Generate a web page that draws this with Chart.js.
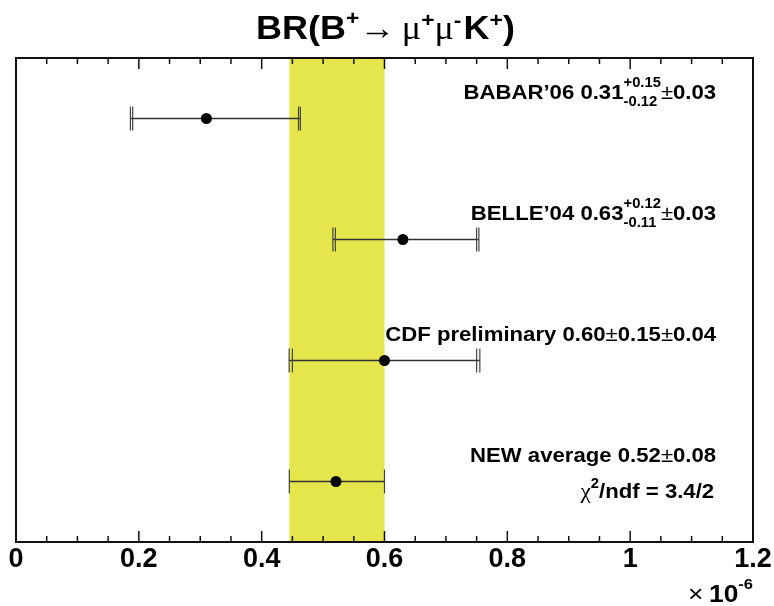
<!DOCTYPE html>
<html>
<head>
<meta charset="utf-8">
<script src="https://cdn.jsdelivr.net/npm/chart.js@4.4.1/dist/chart.umd.min.js"></script>
<style>
  html, body { margin: 0; padding: 0; background: #fff; }
  #wrap { width: 774px; height: 606px; }
</style>
</head>
<body>
<div id="wrap"><canvas id="c" width="774" height="606"></canvas></div>
<script>
// ---- data ----
const names        = ["BABAR\u201906", "BELLE\u201904", "CDF preliminary", "NEW average"];
const values       = [0.31, 0.63, 0.60, 0.521];
const statPlus     = [0.15, 0.12, 0.15, 0.079];
const statMinus    = [0.12, 0.11, 0.15, 0.076];
const syst         = [0.03, 0.03, 0.04, 0];
const rows         = [3.5, 2.5, 1.5, 0.5];
const resultText   = ["0.31", "0.63", "0.60", "0.52"];
const statUpText   = ["+0.15", "+0.12", null, null];
const statDownText = ["-0.12", "-0.11", null, null];
const statSymText  = [null, null, "0.15", "0.08"];
const systText     = ["0.03", "0.03", "0.04", null];
const band         = [0.445, 0.600];
const chi2Text     = "/ndf = 3.4/2";
const xTickLabels  = ["0", "0.2", "0.4", "0.6", "0.8", "1", "1.2"];

const SANS = '"Liberation Sans", Arial, sans-serif';
const SERIF = '"Liberation Serif", "Times New Roman", serif';

function measurePieces(ctx, pieces) {
  let w = 0;
  for (const p of pieces) {
    ctx.font = p.f;
    if (p.sup !== undefined) {
      p.w = Math.max(ctx.measureText(p.sup).width, ctx.measureText(p.sub).width);
    } else {
      p.w = ctx.measureText(p.t).width;
    }
    w += p.w + (p.pad || 0);
  }
  return w;
}
function drawRich(ctx, pieces, x, y, align, sx) {
  const w = measurePieces(ctx, pieces) * sx;
  let start = align === 'right' ? x - w : (align === 'center' ? x - w / 2 : x);
  ctx.save();
  ctx.translate(start, y);
  ctx.scale(sx, 1);
  ctx.fillStyle = '#000';
  ctx.textAlign = 'left';
  ctx.textBaseline = 'alphabetic';
  let cx = 0;
  for (const p of pieces) {
    ctx.font = p.f;
    if (p.sup !== undefined) {
      ctx.fillText(p.sup, cx, -p.up);
      ctx.fillText(p.sub, cx, p.down);
    } else {
      ctx.fillText(p.t, cx, p.dy || 0);
    }
    cx += p.w + (p.pad || 0);
  }
  ctx.restore();
}

const hepPlugin = {
  id: 'hep',
  beforeDatasetsDraw(chart) {
    const { ctx, chartArea: a, scales: { x, y } } = chart;
    ctx.save();
    // average band
    const bx0 = x.getPixelForValue(band[0]);
    const bx1 = x.getPixelForValue(band[1]);
    ctx.fillStyle = 'rgb(229,229,76)';
    ctx.fillRect(bx0, a.top, bx1 - bx0, a.bottom - a.top);
    // error bars
    values.forEach((v, i) => {
      const py = y.getPixelForValue(rows[i]);
      const sLo = v - statMinus[i], sHi = v + statPlus[i];
      const tLo = v - Math.hypot(statMinus[i], syst[i]);
      const tHi = v + Math.hypot(statPlus[i], syst[i]);
      ctx.strokeStyle = '#333';
      ctx.lineWidth = 1.6;
      ctx.beginPath();
      ctx.moveTo(x.getPixelForValue(tLo), py);
      ctx.lineTo(x.getPixelForValue(tHi), py);
      ctx.stroke();
      const ends = syst[i] > 0 ? [sLo, sHi, tLo, tHi] : [sLo, sHi];
      ctx.strokeStyle = '#444';
      ctx.lineWidth = 1.2;
      ends.forEach(e => {
        const px = x.getPixelForValue(e);
        ctx.beginPath();
        ctx.moveTo(px, py - 12);
        ctx.lineTo(px, py + 12);
        ctx.stroke();
      });
    });
    ctx.restore();
  },
  afterDraw(chart) {
    const { ctx, chartArea: a, scales: { x, y } } = chart;
    ctx.save();
    // frame
    ctx.strokeStyle = '#111';
    ctx.lineWidth = 2;
    ctx.strokeRect(a.left, a.top, a.right - a.left, a.bottom - a.top);
    // inward ticks top and bottom
    ctx.lineWidth = 1.5;
    for (let k = 0; k <= 24; k++) {
      const v = k * 0.05;
      const px = x.getPixelForValue(v);
      const len = (k % 4 === 0) ? 11 : 6;
      ctx.beginPath();
      ctx.moveTo(px, a.bottom);
      ctx.lineTo(px, a.bottom - len);
      ctx.moveTo(px, a.top);
      ctx.lineTo(px, a.top + len);
      ctx.stroke();
    }
    ctx.restore();

    const B21 = 'bold 21px ' + SANS;
    const B14 = 'bold 14px ' + SANS;
    const N21 = '21px ' + SANS;
    const textRight = x.getPixelForValue(1.0) + 86;
    // measurement labels
    values.forEach((v, i) => {
      const py = y.getPixelForValue(rows[i]);
      const pieces = [{ t: names[i] + ' ' + resultText[i], f: B21 }];
      if (statUpText[i]) {
        pieces.push({ sup: statUpText[i], sub: statDownText[i], f: B14, up: 12, down: 7 });
      } else {
        pieces.push({ t: '\u00b1', f: N21 });
        pieces.push({ t: statSymText[i], f: B21 });
      }
      if (systText[i]) {
        pieces.push({ t: '\u00b1', f: N21 });
        pieces.push({ t: systText[i], f: B21 });
      }
      drawRich(ctx, pieces, textRight, py - 20, 'right', 1.055);
    });
    // chi2 line
    const pyLast = y.getPixelForValue(rows[3]);
    drawRich(ctx, [
      { t: '\u03c7', f: '22px ' + SERIF },
      { t: '2', f: B14, dy: -10 },
      { t: chi2Text, f: B21 }
    ], textRight - 2, pyLast + 16, 'right', 1.055);

    // title
    const TB = 'bold 33px ' + SANS, TS = 'bold 21px ' + SANS, TG = '33px ' + SERIF;
    drawRich(ctx, [
      { t: 'BR(B', f: TB },
      { t: '+', f: TS, dy: -14 },
      { t: '\u2192', f: TG, pad: 6 },
      { t: '\u03bc', f: TG },
      { t: '+', f: TS, dy: -12 },
      { t: '\u03bc', f: TG },
      { t: '-', f: TS, dy: -12, pad: 2 },
      { t: 'K', f: TB },
      { t: '+', f: TS, dy: -12 },
      { t: ')', f: TB }
    ], (a.left + a.right) / 2 + 1, 39, 'center', 1.09);

    // axis multiplier
    drawRich(ctx, [
      { t: '\u00d7', f: '24px ' + SANS, pad: 5 },
      { t: '10', f: 'bold 24px ' + SANS },
      { t: '-6', f: 'bold 15px ' + SANS, dy: -13 }
    ], a.right, 602, 'right', 1.1);
  }
};

new Chart(document.getElementById('c'), {
  type: 'scatter',
  data: {
    datasets: [{
      data: values.map((v, i) => ({ x: v, y: rows[i] })),
      pointRadius: 5.5,
      pointHoverRadius: 5.5,
      pointBackgroundColor: '#000',
      pointBorderWidth: 0,
      showLine: false
    }]
  },
  options: {
    responsive: false,
    animation: false,
    devicePixelRatio: 1,
    layout: { padding: { left: 16, right: 21, top: 58, bottom: 0 } },
    plugins: { legend: { display: false }, tooltip: { enabled: false }, title: { display: false } },
    scales: {
      x: {
        type: 'linear',
        min: 0, max: 1.2,
        grid: { display: false, drawTicks: false },
        border: { display: false },
        afterFit: (s) => { s.height = 64; },
        ticks: {
          stepSize: 0.2,
          autoSkip: false,
          maxRotation: 0,
          padding: 1,
          color: '#000',
          font: { family: SANS, size: 27, weight: 'bold' },
          callback: (val, idx) => xTickLabels[idx]
        }
      },
      y: {
        type: 'linear',
        min: 0, max: 4,
        display: false
      }
    }
  },
  plugins: [hepPlugin]
});
</script>
</body>
</html>
